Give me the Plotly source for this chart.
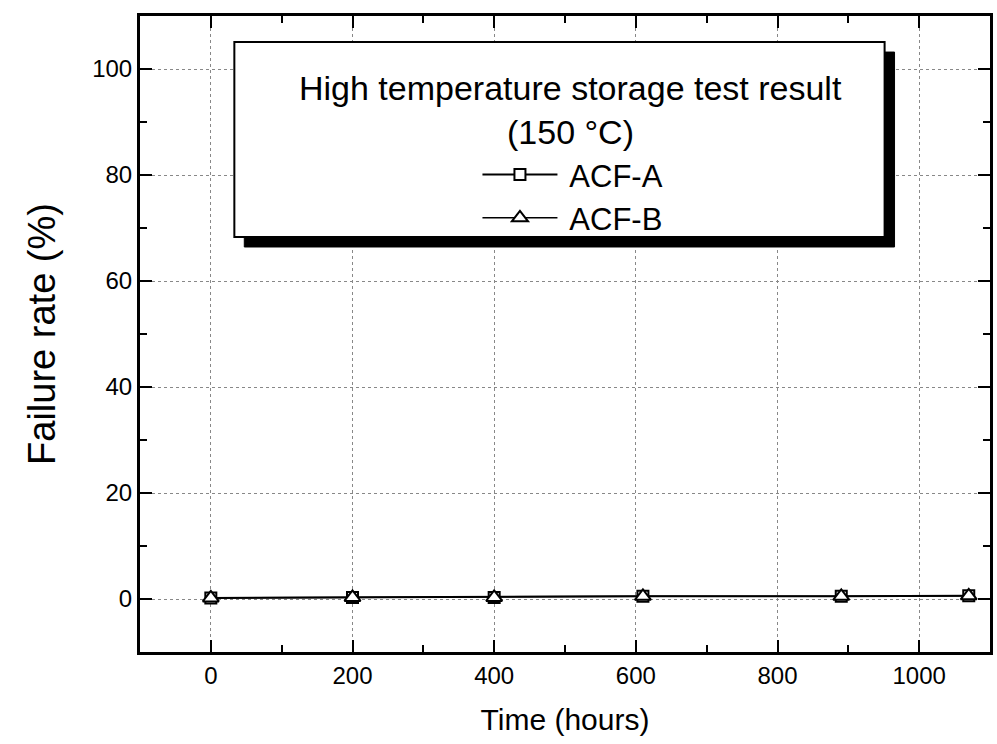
import plotly.graph_objects as go

# Data
time_a = [0, 200, 400, 610, 890, 1070]
rate_a = [0.2, 0.3, 0.3, 0.5, 0.5, 0.6]
time_b = [0, 200, 400, 610, 890, 1070]
rate_b = [0.2, 0.3, 0.3, 0.5, 0.5, 0.6]
x_ticks = [0, 200, 400, 600, 800, 1000]
y_ticks = [0, 20, 40, 60, 80, 100]

FONT = "Liberation Sans, Arial, sans-serif"

fig = go.Figure()
fig.add_trace(go.Scatter(
    x=time_a, y=rate_a, name=" ACF-A", mode="lines+markers",
    line=dict(color="black", width=2),
    marker=dict(symbol="square", size=11, color="white", line=dict(color="black", width=2)),
))
fig.add_trace(go.Scatter(
    x=time_b, y=rate_b, name=" ACF-B", mode="lines+markers",
    line=dict(color="black", width=1.5),
    marker=dict(symbol="triangle-up", size=14, color="white", line=dict(color="black", width=2)),
))

axis_common = dict(
    showline=True, linecolor="black", linewidth=3, mirror="allticks",
    ticks="inside", ticklen=12, tickwidth=2, tickcolor="black",
    showgrid=True, gridcolor="#888888", gridwidth=1, griddash="dot",
    zeroline=False,
    tickfont=dict(family=FONT, size=24, color="black"),
)

fig.update_xaxes(
    range=[-100, 1100], tickvals=x_ticks, ticklabelstandoff=0,
    minor=dict(dtick=100, ticks="inside", ticklen=7, tickwidth=2, tickcolor="black", showgrid=False),
    title=dict(text="Time (hours)", font=dict(family=FONT, size=30, color="black"), standoff=22),
    **axis_common,
)
fig.update_yaxes(
    range=[-10, 110], tickvals=y_ticks,
    minor=dict(dtick=10, ticks="inside", ticklen=7, tickwidth=2, tickcolor="black", showgrid=False),
    title=dict(text="Failure rate (%)", font=dict(family=FONT, size=38, color="black"), standoff=25),
    **axis_common,
)

# Legend box with drop shadow (paper coords)
bx0, bx1, by0, by1 = 0.111, 0.876, 0.6525, 0.959
dx, dy = 0.0117, 0.0157
fig.add_shape(type="rect", xref="paper", yref="paper",
              x0=bx0 + dx, x1=bx1 + dx, y0=by0 - dy, y1=by1 - dy,
              fillcolor="black", line=dict(color="black", width=1), layer="above")
fig.add_shape(type="rect", xref="paper", yref="paper",
              x0=bx0, x1=bx1, y0=by0, y1=by1,
              fillcolor="white", line=dict(color="black", width=2), layer="above")

fig.add_annotation(xref="paper", yref="paper", x=0.506, y=0.887,
                   text="High temperature storage test result", showarrow=False,
                   font=dict(family=FONT, size=34, color="black"), yanchor="middle")
fig.add_annotation(xref="paper", yref="paper", x=0.506, y=0.818,
                   text="(150 °C)", showarrow=False,
                   font=dict(family=FONT, size=34, color="black"), yanchor="middle")

fig.update_layout(
    width=997, height=744,
    margin=dict(l=140, r=4, t=16, b=92),
    paper_bgcolor="white", plot_bgcolor="white",
    font=dict(family=FONT, color="black"),
    legend=dict(
        x=0.397, y=0.7926, xanchor="left", yanchor="top",
        bgcolor="rgba(0,0,0,0)", borderwidth=0,
        font=dict(family=FONT, size=31, color="black"),
        tracegroupgap=0, itemwidth=75,
    ),
    showlegend=True,
)

fig.write_html("out.html")
